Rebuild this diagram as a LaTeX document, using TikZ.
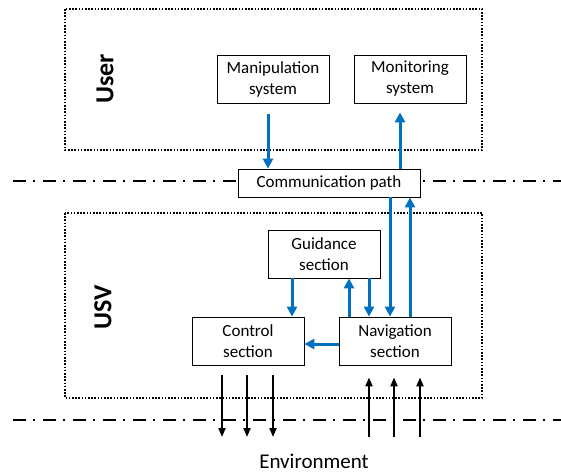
\documentclass[tikz,border=0pt]{standalone}
\usepackage{fontspec}
\setmainfont{Carlito}
\usetikzlibrary{arrows.meta, positioning}
\definecolor{linkblue}{RGB}{0,112,192}

\begin{document}
\begin{tikzpicture}[x=1pt, y=-1pt,
    block/.style={draw, fill=white, line width=0.8pt, minimum width=112pt, minimum height=48pt,
      inner sep=0pt, align=center, font=\fontsize{17}{21}\selectfont},
    zone/.style={draw, line width=1.3pt, dash pattern=on 1.6pt off 1.6pt},
    layer/.style={font=\fontsize{26}{30}\selectfont\bfseries, rotate=90},
    flow/.style={draw=linkblue, line width=3pt, -{Triangle[length=10pt, width=10pt]}},
    sense/.style={line width=2pt, -{Triangle[length=9pt, width=7pt]}},
    border/.style={line width=1.4pt, dash pattern=on 13pt off 7pt on 2pt off 8pt}]

    \useasboundingbox (0,0) rectangle (561,472);

    % dotted areas
    \draw[zone] (65,9) rectangle (482,150);
    \draw[zone] (65,213) rectangle (482,398);
    \node[layer] (user) at (105,79) {User};
    \node[layer] (usv) at (103,307) {USV};

    % boundary lines
    \coordinate (bl1) at (13,181);
    \coordinate (br1) at (561,181);
    \coordinate (bl2) at (13,420);
    \coordinate (br2) at (561,420);
    \coordinate (gnd) at (0,437);
    \draw[border] (bl1) -- (br1);
    \draw[border] (bl2) -- (br2);

    % blocks
    \node[block] (man) at (273,79) {Manipulation\\system};
    \node[block] (mon) at (410,79) {Monitoring\\system};
    \node[block, minimum width=182pt, minimum height=28pt] (comm) at (329,183) {Communication path};
    \node[block] (guid) at (324,254) {Guidance\\section};
    \node[block] (ctrl) at (248,341) {Control\\section};
    \node[block] (nav) at (395,341) {Navigation\\section};
    \node[font=\fontsize{21}{25}\selectfont] (env) at (314,461) {Environment};

    % user side
    \draw[flow, shorten <=11pt] ([xshift=-5pt]man.south) -- ([xshift=-5pt]man.south |- comm.north);
    \draw[flow, shorten >=9pt] ([xshift=-10pt]mon.south |- comm.north) -- ([xshift=-10pt]mon.south);

    % vehicle side
    \draw[flow] ([xshift=-5pt]nav.north |- comm.south) -- ([xshift=-5pt]nav.north);
    \draw[flow] ([xshift=15pt]nav.north) -- ([xshift=15pt]nav.north |- comm.south);
    \draw[flow] ([xshift=-46pt]nav.north) -- ([xshift=-46pt]nav.north |- guid.south);
    \draw[flow] ([xshift=-26pt]nav.north |- guid.south) -- ([xshift=-26pt]nav.north);
    \draw[flow] ([xshift=44pt]ctrl.north |- guid.south) -- ([xshift=44pt]ctrl.north);
    \draw[flow] ([yshift=-3pt]nav.west) -- ([yshift=-3pt]ctrl.east);

    % environment
    \foreach \dx in {-26,-1,25}
      \draw[sense, shorten <=10pt] ([xshift=\dx pt]ctrl.south) -- ([xshift=\dx pt]ctrl.south |- gnd);
    \foreach \dx in {-26,-1,25}
      \draw[sense, shorten >=12pt] ([xshift=\dx pt]nav.south |- gnd) -- ([xshift=\dx pt]nav.south);
\end{tikzpicture}
\end{document}
